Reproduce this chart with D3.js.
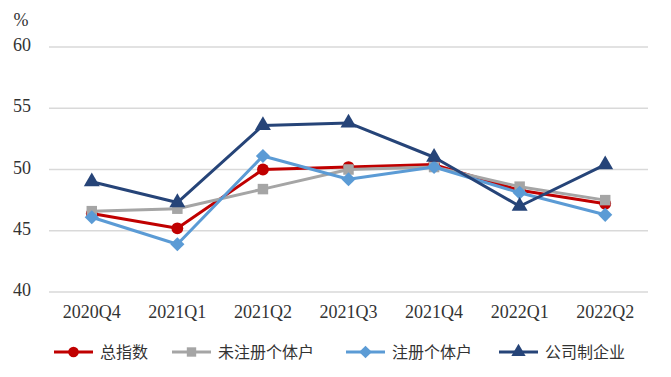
<!DOCTYPE html>
<html>
<head>
<meta charset="utf-8">
<script src="https://cdn.jsdelivr.net/npm/d3@7"></script>
<style>
  body { margin: 0; background: #fff; }
  .axis text { font-family: "Liberation Serif", "Times New Roman", serif; font-size: 18px; fill: #333; }
  .legend text { font-family: "Noto Sans CJK SC", sans-serif; font-size: 16px; fill: #333; }
</style>
</head>
<body>
<svg width="671" height="377"></svg>
<script>
  var quarters = ["2020Q4", "2021Q1", "2021Q2", "2021Q3", "2021Q4", "2022Q1", "2022Q2"];
  var names = ["总指数", "未注册个体户", "注册个体户", "公司制企业"];
  var total      = [46.4, 45.2, 50.0, 50.2, 50.4, 48.3, 47.2]; // 总指数
  var unreg      = [46.6, 46.8, 48.4, 50.0, 50.2, 48.6, 47.5]; // 未注册个体户
  var reg        = [46.1, 43.9, 51.1, 49.2, 50.2, 48.1, 46.3]; // 注册个体户
  var corp       = [49.0, 47.3, 53.6, 53.8, 51.0, 47.0, 50.4]; // 公司制企业
  var yTicks = [40, 45, 50, 55, 60];

  var series = [total, unreg, reg, corp];
  var colors = ["#c00000", "#a5a5a5", "#5b9bd5", "#264478"];
  var symbols = [d3.symbolCircle, d3.symbolSquare, d3.symbolSquare, d3.symbolTriangle];
  var sizes = [110, 110, 100, 110];
  var rot = [0, 0, 45, 0];

  var svg = d3.select("svg"),
      margin = {top: 47, right: 23, bottom: 85, left: 49},
      width = +svg.attr("width") - margin.left - margin.right,
      height = +svg.attr("height") - margin.top - margin.bottom,
      g = svg.append("g").attr("transform", "translate(" + margin.left + "," + margin.top + ")");

  var x = d3.scaleBand().domain(quarters).range([0, width]);
  var y = d3.scaleLinear().domain([40, 60]).range([height, 0]);

  // lineas de la rejilla
  g.append("g")
    .selectAll("line")
    .data(yTicks)
    .enter().append("line")
      .attr("x1", 0).attr("x2", width)
      .attr("y1", function(d) { return y(d); })
      .attr("y2", function(d) { return y(d); })
      .attr("stroke", "#d9d9d9")
      .attr("stroke-width", 1.5);

  var yAxis = g.append("g")
      .attr("class", "axis")
      .call(d3.axisLeft(y).tickValues(yTicks).tickSize(0).tickPadding(18));
  yAxis.select(".domain").remove();
  yAxis.selectAll("text").attr("dy", "0.2em");

  var xAxis = g.append("g")
      .attr("class", "axis")
      .attr("transform", "translate(0," + height + ")")
      .call(d3.axisBottom(x).tickSize(0).tickPadding(13));
  xAxis.select(".domain").remove();

  svg.append("text")
      .attr("x", 21).attr("y", 26)
      .attr("text-anchor", "middle")
      .style("font-family", "Liberation Serif, serif")
      .style("font-size", "18px")
      .style("fill", "#333")
      .text("%");

  var line = d3.line()
      .x(function(d, i) { return x(quarters[i]) + x.bandwidth() / 2; })
      .y(function(d) { return y(d); });

  series.forEach(function(s, k) {
    g.append("path")
      .datum(s)
      .attr("fill", "none")
      .attr("stroke", colors[k])
      .attr("stroke-width", 3)
      .attr("stroke-linejoin", "round")
      .attr("d", line);
    g.selectAll(".m" + k)
      .data(s)
      .enter().append("path")
        .attr("class", "m" + k)
        .attr("transform", function(d, i) { return "translate(" + (x(quarters[i]) + x.bandwidth() / 2) + "," + y(d) + ") rotate(" + rot[k] + ")"; })
        .attr("d", d3.symbol().type(symbols[k]).size(sizes[k]))
        .attr("fill", colors[k]);
  });

  // leyenda
  var legX = [54, 172, 346, 499];
  var leg = svg.append("g").attr("class", "legend")
    .selectAll("g")
    .data(names)
    .enter().append("g")
      .attr("transform", function(d, i) { return "translate(" + legX[i] + ",352)"; });
  leg.append("line")
      .attr("x1", 0).attr("x2", 39)
      .attr("stroke", function(d, i) { return colors[i]; })
      .attr("stroke-width", 3);
  leg.append("path")
      .attr("transform", function(d, i) { return "translate(19.5,0) rotate(" + rot[i] + ")"; })
      .attr("d", function(d, i) { return d3.symbol().type(symbols[i]).size(sizes[i] * 0.8)(); })
      .attr("fill", function(d, i) { return colors[i]; });
  leg.append("text")
      .attr("x", 46).attr("dy", "0.35em")
      .text(function(d) { return d; });
</script>
</body>
</html>
